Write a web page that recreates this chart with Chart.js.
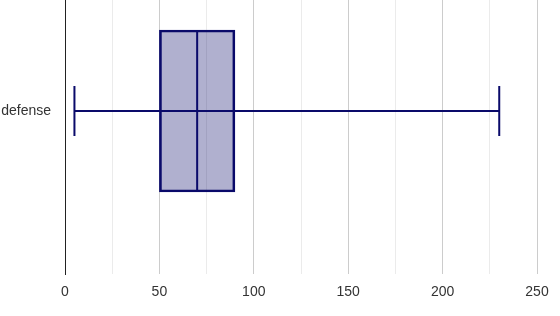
<!DOCTYPE html>
<html>
<head>
<meta charset="utf-8">
<script src="https://cdn.jsdelivr.net/npm/chart.js@4.4.1/dist/chart.umd.min.js"></script>
<style>
  html, body { margin: 0; padding: 0; background: #ffffff; }
  #wrap { width: 560px; height: 316px; position: relative; }
</style>
</head>
<body>
<div id="wrap"><canvas id="c"></canvas></div>
<script>
// ---- data ----
const categories = ['defense'];
const minValues = [5];
const q1Values = [50];
const medianValues = [70];
const q3Values = [90];
const maxValues = [230];
const xTickLabels = [0, 50, 100, 150, 200, 250];

// ---- style ----
const STROKE = '#0a0a6a';
const FILL = 'rgba(10,10,106,0.32)';
const BOX_THICKNESS = 162;
const CAP_HALF = 25;

const boxPlotLines = {
  id: 'boxPlotLines',
  afterDatasetsDraw(chart) {
    const { ctx, scales: { x, y } } = chart;
    ctx.save();
    ctx.strokeStyle = STROKE;
    ctx.lineWidth = 2;
    ctx.lineCap = 'butt';
    categories.forEach((c, i) => {
      const yc = y.getPixelForValue(i);
      const half = BOX_THICKNESS / 2 - 1;
      const xMin = x.getPixelForValue(minValues[i]);
      const xMax = x.getPixelForValue(maxValues[i]);
      const xMed = x.getPixelForValue(medianValues[i]);
      ctx.beginPath();
      ctx.moveTo(xMin, yc); ctx.lineTo(xMax, yc);
      ctx.moveTo(xMed, yc - half); ctx.lineTo(xMed, yc + half);
      ctx.moveTo(xMin, yc - CAP_HALF); ctx.lineTo(xMin, yc + CAP_HALF);
      ctx.moveTo(xMax, yc - CAP_HALF); ctx.lineTo(xMax, yc + CAP_HALF);
      ctx.stroke();
    });
    ctx.restore();
  }
};

Chart.defaults.font.family = "'Liberation Sans', Arial, sans-serif";
Chart.defaults.font.size = 14;
Chart.defaults.color = '#333333';

new Chart(document.getElementById('c'), {
  type: 'bar',
  data: {
    datasets: [{
      label: 'box',
      data: categories.map((c, i) => ({ y: i, x: [q1Values[i], q3Values[i]] })),
      backgroundColor: FILL,
      borderColor: STROKE,
      borderWidth: 2,
      borderSkipped: false,
      barThickness: BOX_THICKNESS
    }]
  },
  options: {
    indexAxis: 'y',
    responsive: true,
    maintainAspectRatio: false,
    animation: false,
    layout: { padding: { top: 0, right: 23, bottom: 0, left: 0 } },
    plugins: { legend: { display: false }, tooltip: { enabled: false } },
    scales: {
      x: {
        type: 'linear',
        position: 'bottom',
        min: 0,
        max: 250,
        ticks: {
          stepSize: 25,
          autoSkip: false,
          maxRotation: 0,
          padding: 10,
          callback: (v) => xTickLabels.includes(v) ? String(v) : ''
        },
        grid: {
          drawTicks: false,
          color: (ctx) => {
            const v = ctx.tick ? ctx.tick.value : 0;
            if (v === 0) return '#222222';
            return v % 50 === 0 ? '#cccccc' : '#ebebeb';
          }
        },
        border: { display: false },
        afterFit: (s) => { s.height = 42; s.paddingLeft = 0; s.paddingRight = 0; }
      },
      y: {
        type: 'linear',
        reverse: true,
        offset: false,
        min: -0.405,
        max: 0.595,
        afterBuildTicks: (s) => { s.ticks = categories.map((c, i) => ({ value: i })); },
        ticks: {
          padding: 14,
          callback: (v) => categories[v] !== undefined ? categories[v] : ''
        },
        grid: { display: false, drawTicks: false, offset: false },
        border: { display: true, color: '#222222', width: 1 },
        afterFit: (s) => { s.width = 65; s.paddingTop = 0; s.paddingBottom = 0; }
      }
    }
  },
  plugins: [boxPlotLines]
});
</script>
</body>
</html>
